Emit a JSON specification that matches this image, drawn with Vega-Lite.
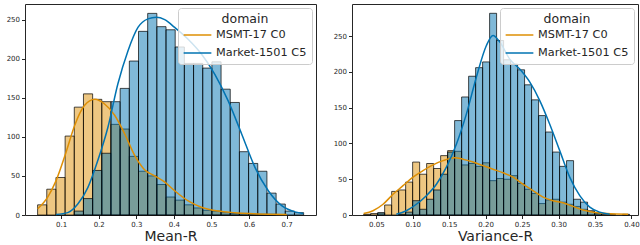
{
  "$schema": "https://vega.github.io/schema/vega-lite/v6.json",
  "padding": {"left": 5, "top": 3, "right": 0, "bottom": 0},
  "spacing": 15,
  "datasets": {
    "meanBars": [
      {"domain": "MSMT-17 C0", "x0": 0.0375, "x1": 0.0619, "count": 13},
      {"domain": "MSMT-17 C0", "x0": 0.0619, "x1": 0.0863, "count": 33},
      {"domain": "MSMT-17 C0", "x0": 0.0863, "x1": 0.1107, "count": 48},
      {"domain": "MSMT-17 C0", "x0": 0.1107, "x1": 0.1351, "count": 101},
      {"domain": "MSMT-17 C0", "x0": 0.1351, "x1": 0.1595, "count": 138},
      {"domain": "MSMT-17 C0", "x0": 0.1595, "x1": 0.1839, "count": 155},
      {"domain": "MSMT-17 C0", "x0": 0.1839, "x1": 0.2083, "count": 148},
      {"domain": "MSMT-17 C0", "x0": 0.2083, "x1": 0.2327, "count": 145},
      {"domain": "MSMT-17 C0", "x0": 0.2327, "x1": 0.2571, "count": 116},
      {"domain": "MSMT-17 C0", "x0": 0.2571, "x1": 0.2815, "count": 110},
      {"domain": "MSMT-17 C0", "x0": 0.2815, "x1": 0.3059, "count": 75},
      {"domain": "MSMT-17 C0", "x0": 0.3059, "x1": 0.3303, "count": 56},
      {"domain": "MSMT-17 C0", "x0": 0.3303, "x1": 0.3547, "count": 50},
      {"domain": "MSMT-17 C0", "x0": 0.3547, "x1": 0.3791, "count": 39},
      {"domain": "MSMT-17 C0", "x0": 0.3791, "x1": 0.4035, "count": 23},
      {"domain": "MSMT-17 C0", "x0": 0.4035, "x1": 0.4279, "count": 19},
      {"domain": "MSMT-17 C0", "x0": 0.4279, "x1": 0.4523, "count": 13},
      {"domain": "MSMT-17 C0", "x0": 0.4523, "x1": 0.4767, "count": 9},
      {"domain": "MSMT-17 C0", "x0": 0.4767, "x1": 0.5011, "count": 6},
      {"domain": "MSMT-17 C0", "x0": 0.5011, "x1": 0.5255, "count": 5},
      {"domain": "MSMT-17 C0", "x0": 0.5255, "x1": 0.5499, "count": 3},
      {"domain": "MSMT-17 C0", "x0": 0.5499, "x1": 0.5743, "count": 2},
      {"domain": "MSMT-17 C0", "x0": 0.5743, "x1": 0.5987, "count": 2},
      {"domain": "MSMT-17 C0", "x0": 0.5987, "x1": 0.6231, "count": 1},
      {"domain": "MSMT-17 C0", "x0": 0.6231, "x1": 0.6475, "count": 1},
      {"domain": "MSMT-17 C0", "x0": 0.6475, "x1": 0.6719, "count": 1},
      {"domain": "Market-1501 C5", "x0": 0.1351, "x1": 0.1595, "count": 5},
      {"domain": "Market-1501 C5", "x0": 0.1595, "x1": 0.1839, "count": 21},
      {"domain": "Market-1501 C5", "x0": 0.1839, "x1": 0.2083, "count": 57},
      {"domain": "Market-1501 C5", "x0": 0.2083, "x1": 0.2327, "count": 79},
      {"domain": "Market-1501 C5", "x0": 0.2327, "x1": 0.2571, "count": 145},
      {"domain": "Market-1501 C5", "x0": 0.2571, "x1": 0.2815, "count": 162},
      {"domain": "Market-1501 C5", "x0": 0.2815, "x1": 0.3059, "count": 197},
      {"domain": "Market-1501 C5", "x0": 0.3059, "x1": 0.3303, "count": 235},
      {"domain": "Market-1501 C5", "x0": 0.3303, "x1": 0.3547, "count": 258},
      {"domain": "Market-1501 C5", "x0": 0.3547, "x1": 0.3791, "count": 241},
      {"domain": "Market-1501 C5", "x0": 0.3791, "x1": 0.4035, "count": 237},
      {"domain": "Market-1501 C5", "x0": 0.4035, "x1": 0.4279, "count": 215},
      {"domain": "Market-1501 C5", "x0": 0.4279, "x1": 0.4523, "count": 194},
      {"domain": "Market-1501 C5", "x0": 0.4523, "x1": 0.4767, "count": 194},
      {"domain": "Market-1501 C5", "x0": 0.4767, "x1": 0.5011, "count": 188},
      {"domain": "Market-1501 C5", "x0": 0.5011, "x1": 0.5255, "count": 196},
      {"domain": "Market-1501 C5", "x0": 0.5255, "x1": 0.5499, "count": 161},
      {"domain": "Market-1501 C5", "x0": 0.5499, "x1": 0.5743, "count": 144},
      {"domain": "Market-1501 C5", "x0": 0.5743, "x1": 0.5987, "count": 81},
      {"domain": "Market-1501 C5", "x0": 0.5987, "x1": 0.6231, "count": 66},
      {"domain": "Market-1501 C5", "x0": 0.6231, "x1": 0.6475, "count": 56},
      {"domain": "Market-1501 C5", "x0": 0.6475, "x1": 0.6719, "count": 28},
      {"domain": "Market-1501 C5", "x0": 0.6719, "x1": 0.6963, "count": 14},
      {"domain": "Market-1501 C5", "x0": 0.6963, "x1": 0.7207, "count": 5},
      {"domain": "Market-1501 C5", "x0": 0.7207, "x1": 0.7451, "count": 3}
    ],
    "meanKde": [
      {"domain": "MSMT-17 C0", "x": 0.0378, "y": 8},
      {"domain": "MSMT-17 C0", "x": 0.0644, "y": 23},
      {"domain": "MSMT-17 C0", "x": 0.0867, "y": 44},
      {"domain": "MSMT-17 C0", "x": 0.113, "y": 80},
      {"domain": "MSMT-17 C0", "x": 0.1356, "y": 114},
      {"domain": "MSMT-17 C0", "x": 0.162, "y": 140},
      {"domain": "MSMT-17 C0", "x": 0.19, "y": 148},
      {"domain": "MSMT-17 C0", "x": 0.2156, "y": 142},
      {"domain": "MSMT-17 C0", "x": 0.242, "y": 128},
      {"domain": "MSMT-17 C0", "x": 0.269, "y": 104},
      {"domain": "MSMT-17 C0", "x": 0.296, "y": 76},
      {"domain": "MSMT-17 C0", "x": 0.322, "y": 58},
      {"domain": "MSMT-17 C0", "x": 0.349, "y": 50},
      {"domain": "MSMT-17 C0", "x": 0.376, "y": 42},
      {"domain": "MSMT-17 C0", "x": 0.402, "y": 31},
      {"domain": "MSMT-17 C0", "x": 0.438, "y": 18},
      {"domain": "MSMT-17 C0", "x": 0.473, "y": 10},
      {"domain": "MSMT-17 C0", "x": 0.518, "y": 5},
      {"domain": "MSMT-17 C0", "x": 0.562, "y": 3},
      {"domain": "MSMT-17 C0", "x": 0.651, "y": 1},
      {"domain": "MSMT-17 C0", "x": 0.70, "y": 0.5},
      {"domain": "Market-1501 C5", "x": 0.0867, "y": 0.5},
      {"domain": "Market-1501 C5", "x": 0.1178, "y": 3},
      {"domain": "Market-1501 C5", "x": 0.1444, "y": 14},
      {"domain": "Market-1501 C5", "x": 0.1711, "y": 35},
      {"domain": "Market-1501 C5", "x": 0.1978, "y": 70},
      {"domain": "Market-1501 C5", "x": 0.2244, "y": 112},
      {"domain": "Market-1501 C5", "x": 0.2511, "y": 168},
      {"domain": "Market-1501 C5", "x": 0.2778, "y": 210},
      {"domain": "Market-1501 C5", "x": 0.3044, "y": 240},
      {"domain": "Market-1501 C5", "x": 0.3311, "y": 251},
      {"domain": "Market-1501 C5", "x": 0.3533, "y": 253},
      {"domain": "Market-1501 C5", "x": 0.3756, "y": 250},
      {"domain": "Market-1501 C5", "x": 0.4022, "y": 240},
      {"domain": "Market-1501 C5", "x": 0.4378, "y": 225},
      {"domain": "Market-1501 C5", "x": 0.4733, "y": 206},
      {"domain": "Market-1501 C5", "x": 0.5089, "y": 180},
      {"domain": "Market-1501 C5", "x": 0.5444, "y": 146},
      {"domain": "Market-1501 C5", "x": 0.58, "y": 104},
      {"domain": "Market-1501 C5", "x": 0.6156, "y": 61},
      {"domain": "Market-1501 C5", "x": 0.6511, "y": 31},
      {"domain": "Market-1501 C5", "x": 0.6867, "y": 12},
      {"domain": "Market-1501 C5", "x": 0.7222, "y": 4},
      {"domain": "Market-1501 C5", "x": 0.7444, "y": 2}
    ],
    "varBars": [
      {"domain": "MSMT-17 C0", "x0": 0.0326, "x1": 0.0422, "count": 1},
      {"domain": "MSMT-17 C0", "x0": 0.0422, "x1": 0.0518, "count": 2},
      {"domain": "MSMT-17 C0", "x0": 0.0518, "x1": 0.0614, "count": 3},
      {"domain": "MSMT-17 C0", "x0": 0.0614, "x1": 0.071, "count": 14},
      {"domain": "MSMT-17 C0", "x0": 0.071, "x1": 0.0806, "count": 33},
      {"domain": "MSMT-17 C0", "x0": 0.0806, "x1": 0.0902, "count": 35},
      {"domain": "MSMT-17 C0", "x0": 0.0902, "x1": 0.0998, "count": 46},
      {"domain": "MSMT-17 C0", "x0": 0.0998, "x1": 0.1094, "count": 74},
      {"domain": "MSMT-17 C0", "x0": 0.1094, "x1": 0.119, "count": 57},
      {"domain": "MSMT-17 C0", "x0": 0.119, "x1": 0.1286, "count": 72},
      {"domain": "MSMT-17 C0", "x0": 0.1286, "x1": 0.1382, "count": 65},
      {"domain": "MSMT-17 C0", "x0": 0.1382, "x1": 0.1478, "count": 83},
      {"domain": "MSMT-17 C0", "x0": 0.1478, "x1": 0.1574, "count": 90},
      {"domain": "MSMT-17 C0", "x0": 0.1574, "x1": 0.167, "count": 89},
      {"domain": "MSMT-17 C0", "x0": 0.167, "x1": 0.1766, "count": 70},
      {"domain": "MSMT-17 C0", "x0": 0.1766, "x1": 0.1862, "count": 72},
      {"domain": "MSMT-17 C0", "x0": 0.1862, "x1": 0.1958, "count": 68},
      {"domain": "MSMT-17 C0", "x0": 0.1958, "x1": 0.2054, "count": 73},
      {"domain": "MSMT-17 C0", "x0": 0.2054, "x1": 0.215, "count": 48},
      {"domain": "MSMT-17 C0", "x0": 0.215, "x1": 0.2246, "count": 51},
      {"domain": "MSMT-17 C0", "x0": 0.2246, "x1": 0.2342, "count": 50},
      {"domain": "MSMT-17 C0", "x0": 0.2342, "x1": 0.2438, "count": 55},
      {"domain": "MSMT-17 C0", "x0": 0.2438, "x1": 0.2534, "count": 44},
      {"domain": "MSMT-17 C0", "x0": 0.2534, "x1": 0.263, "count": 36},
      {"domain": "MSMT-17 C0", "x0": 0.263, "x1": 0.2726, "count": 30},
      {"domain": "MSMT-17 C0", "x0": 0.2726, "x1": 0.2822, "count": 16},
      {"domain": "MSMT-17 C0", "x0": 0.2822, "x1": 0.2918, "count": 21},
      {"domain": "MSMT-17 C0", "x0": 0.2918, "x1": 0.3014, "count": 22},
      {"domain": "MSMT-17 C0", "x0": 0.3014, "x1": 0.311, "count": 18},
      {"domain": "MSMT-17 C0", "x0": 0.311, "x1": 0.3206, "count": 15},
      {"domain": "MSMT-17 C0", "x0": 0.3206, "x1": 0.3302, "count": 12},
      {"domain": "MSMT-17 C0", "x0": 0.3302, "x1": 0.3398, "count": 8},
      {"domain": "MSMT-17 C0", "x0": 0.3398, "x1": 0.3494, "count": 5},
      {"domain": "MSMT-17 C0", "x0": 0.3494, "x1": 0.359, "count": 2},
      {"domain": "MSMT-17 C0", "x0": 0.359, "x1": 0.3686, "count": 1},
      {"domain": "MSMT-17 C0", "x0": 0.3686, "x1": 0.3782, "count": 1},
      {"domain": "MSMT-17 C0", "x0": 0.3878, "x1": 0.3974, "count": 1},
      {"domain": "Market-1501 C5", "x0": 0.0518, "x1": 0.0614, "count": 3},
      {"domain": "Market-1501 C5", "x0": 0.0806, "x1": 0.0902, "count": 1},
      {"domain": "Market-1501 C5", "x0": 0.0902, "x1": 0.0998, "count": 4},
      {"domain": "Market-1501 C5", "x0": 0.0998, "x1": 0.1094, "count": 20},
      {"domain": "Market-1501 C5", "x0": 0.1094, "x1": 0.119, "count": 8},
      {"domain": "Market-1501 C5", "x0": 0.119, "x1": 0.1286, "count": 22},
      {"domain": "Market-1501 C5", "x0": 0.1286, "x1": 0.1382, "count": 35},
      {"domain": "Market-1501 C5", "x0": 0.1382, "x1": 0.1478, "count": 57},
      {"domain": "Market-1501 C5", "x0": 0.1478, "x1": 0.1574, "count": 88},
      {"domain": "Market-1501 C5", "x0": 0.1574, "x1": 0.167, "count": 132},
      {"domain": "Market-1501 C5", "x0": 0.167, "x1": 0.1766, "count": 165},
      {"domain": "Market-1501 C5", "x0": 0.1766, "x1": 0.1862, "count": 194},
      {"domain": "Market-1501 C5", "x0": 0.1862, "x1": 0.1958, "count": 206},
      {"domain": "Market-1501 C5", "x0": 0.1958, "x1": 0.2054, "count": 214},
      {"domain": "Market-1501 C5", "x0": 0.2054, "x1": 0.215, "count": 282},
      {"domain": "Market-1501 C5", "x0": 0.215, "x1": 0.2246, "count": 244},
      {"domain": "Market-1501 C5", "x0": 0.2246, "x1": 0.2342, "count": 217},
      {"domain": "Market-1501 C5", "x0": 0.2342, "x1": 0.2438, "count": 211},
      {"domain": "Market-1501 C5", "x0": 0.2438, "x1": 0.2534, "count": 203},
      {"domain": "Market-1501 C5", "x0": 0.2534, "x1": 0.263, "count": 182},
      {"domain": "Market-1501 C5", "x0": 0.263, "x1": 0.2726, "count": 161},
      {"domain": "Market-1501 C5", "x0": 0.2726, "x1": 0.2822, "count": 139},
      {"domain": "Market-1501 C5", "x0": 0.2822, "x1": 0.2918, "count": 116},
      {"domain": "Market-1501 C5", "x0": 0.2918, "x1": 0.3014, "count": 88},
      {"domain": "Market-1501 C5", "x0": 0.3014, "x1": 0.311, "count": 68},
      {"domain": "Market-1501 C5", "x0": 0.311, "x1": 0.3206, "count": 76},
      {"domain": "Market-1501 C5", "x0": 0.3206, "x1": 0.3302, "count": 22},
      {"domain": "Market-1501 C5", "x0": 0.3302, "x1": 0.3398, "count": 18},
      {"domain": "Market-1501 C5", "x0": 0.3398, "x1": 0.3494, "count": 6},
      {"domain": "Market-1501 C5", "x0": 0.3494, "x1": 0.359, "count": 3}
    ],
    "varKde": [
      {"domain": "MSMT-17 C0", "x": 0.0326, "y": 2},
      {"domain": "MSMT-17 C0", "x": 0.0454, "y": 6},
      {"domain": "MSMT-17 C0", "x": 0.0592, "y": 15},
      {"domain": "MSMT-17 C0", "x": 0.0729, "y": 29},
      {"domain": "MSMT-17 C0", "x": 0.0866, "y": 41},
      {"domain": "MSMT-17 C0", "x": 0.1003, "y": 53},
      {"domain": "MSMT-17 C0", "x": 0.114, "y": 62},
      {"domain": "MSMT-17 C0", "x": 0.1278, "y": 70},
      {"domain": "MSMT-17 C0", "x": 0.1415, "y": 76},
      {"domain": "MSMT-17 C0", "x": 0.1575, "y": 80},
      {"domain": "MSMT-17 C0", "x": 0.169, "y": 78},
      {"domain": "MSMT-17 C0", "x": 0.1827, "y": 74},
      {"domain": "MSMT-17 C0", "x": 0.1964, "y": 69},
      {"domain": "MSMT-17 C0", "x": 0.2101, "y": 64},
      {"domain": "MSMT-17 C0", "x": 0.2238, "y": 59},
      {"domain": "MSMT-17 C0", "x": 0.2376, "y": 53},
      {"domain": "MSMT-17 C0", "x": 0.2513, "y": 43},
      {"domain": "MSMT-17 C0", "x": 0.265, "y": 34},
      {"domain": "MSMT-17 C0", "x": 0.2788, "y": 25},
      {"domain": "MSMT-17 C0", "x": 0.2925, "y": 20},
      {"domain": "MSMT-17 C0", "x": 0.3062, "y": 17},
      {"domain": "MSMT-17 C0", "x": 0.3199, "y": 12},
      {"domain": "MSMT-17 C0", "x": 0.3336, "y": 7},
      {"domain": "MSMT-17 C0", "x": 0.3474, "y": 4},
      {"domain": "MSMT-17 C0", "x": 0.3657, "y": 2},
      {"domain": "MSMT-17 C0", "x": 0.3954, "y": 1},
      {"domain": "Market-1501 C5", "x": 0.0774, "y": 1},
      {"domain": "Market-1501 C5", "x": 0.0912, "y": 6},
      {"domain": "Market-1501 C5", "x": 0.1049, "y": 15},
      {"domain": "Market-1501 C5", "x": 0.1186, "y": 27},
      {"domain": "Market-1501 C5", "x": 0.1324, "y": 43},
      {"domain": "Market-1501 C5", "x": 0.1461, "y": 67},
      {"domain": "Market-1501 C5", "x": 0.1598, "y": 99},
      {"domain": "Market-1501 C5", "x": 0.1735, "y": 141},
      {"domain": "Market-1501 C5", "x": 0.1873, "y": 193},
      {"domain": "Market-1501 C5", "x": 0.201, "y": 237},
      {"domain": "Market-1501 C5", "x": 0.2101, "y": 251},
      {"domain": "Market-1501 C5", "x": 0.2193, "y": 242},
      {"domain": "Market-1501 C5", "x": 0.233, "y": 218},
      {"domain": "Market-1501 C5", "x": 0.2467, "y": 204},
      {"domain": "Market-1501 C5", "x": 0.2604, "y": 186},
      {"domain": "Market-1501 C5", "x": 0.2742, "y": 160},
      {"domain": "Market-1501 C5", "x": 0.2879, "y": 127},
      {"domain": "Market-1501 C5", "x": 0.3016, "y": 90},
      {"domain": "Market-1501 C5", "x": 0.3153, "y": 53},
      {"domain": "Market-1501 C5", "x": 0.3291, "y": 27},
      {"domain": "Market-1501 C5", "x": 0.3428, "y": 11},
      {"domain": "Market-1501 C5", "x": 0.3565, "y": 4},
      {"domain": "Market-1501 C5", "x": 0.3702, "y": 1}
    ]
  },
  "hconcat": [
    {
      "width": 291,
      "height": 211,
      "layer": [
        {
          "data": {"name": "meanBars"},
          "transform": [{"filter": "datum.domain === 'MSMT-17 C0'"}],
          "mark": {"type": "rect", "fill": "#DE8F05", "fillOpacity": 0.5, "stroke": "#000", "strokeWidth": 1, "strokeOpacity": 0.7},
          "encoding": {
            "x": {"field": "x0", "type": "quantitative", "scale": {"domain": [0.004, 0.778], "nice": false, "zero": false},
                  "axis": {"values": [0.1, 0.2, 0.3, 0.4, 0.5, 0.6, 0.7], "format": ".1f", "title": "Mean-R"}},
            "x2": {"field": "x1"},
            "y": {"field": "count", "type": "quantitative", "scale": {"domain": [0, 270], "nice": false},
                  "axis": {"values": [0, 50, 100, 150, 200, 250], "title": null}},
            "y2": {"datum": 0}
          }
        },
        {
          "data": {"name": "meanBars"},
          "transform": [{"filter": "datum.domain === 'Market-1501 C5'"}],
          "mark": {"type": "rect", "fill": "#0173B2", "fillOpacity": 0.5, "stroke": "#000", "strokeWidth": 1, "strokeOpacity": 0.7},
          "encoding": {
            "x": {"field": "x0", "type": "quantitative"},
            "x2": {"field": "x1"},
            "y": {"field": "count", "type": "quantitative"},
            "y2": {"datum": 0}
          }
        },
        {
          "data": {"name": "meanKde"},
          "mark": {"type": "line", "interpolate": "monotone", "strokeWidth": 1.5},
          "encoding": {
            "x": {"field": "x", "type": "quantitative"},
            "y": {"field": "y", "type": "quantitative"},
            "color": {"field": "domain", "type": "nominal", "sort": null, "scale": {"domain": ["MSMT-17 C0", "Market-1501 C5"], "range": ["#DE8F05", "#0173B2"]},
                       "legend": {"title": "domain", "orient": "top-right"}}
          }
        }
      ]
    },
    {
      "width": 286,
      "height": 211,
      "layer": [
        {
          "data": {"name": "varBars"},
          "transform": [{"filter": "datum.domain === 'MSMT-17 C0'"}],
          "mark": {"type": "rect", "fill": "#DE8F05", "fillOpacity": 0.5, "stroke": "#000", "strokeWidth": 1, "strokeOpacity": 0.7},
          "encoding": {
            "x": {"field": "x0", "type": "quantitative", "scale": {"domain": [0.0166, 0.409], "nice": false, "zero": false},
                  "axis": {"values": [0.05, 0.1, 0.15, 0.2, 0.25, 0.3, 0.35, 0.4], "format": ".2f", "title": "Variance-R"}},
            "x2": {"field": "x1"},
            "y": {"field": "count", "type": "quantitative", "scale": {"domain": [0, 295], "nice": false},
                  "axis": {"values": [0, 50, 100, 150, 200, 250], "title": null}},
            "y2": {"datum": 0}
          }
        },
        {
          "data": {"name": "varBars"},
          "transform": [{"filter": "datum.domain === 'Market-1501 C5'"}],
          "mark": {"type": "rect", "fill": "#0173B2", "fillOpacity": 0.5, "stroke": "#000", "strokeWidth": 1, "strokeOpacity": 0.7},
          "encoding": {
            "x": {"field": "x0", "type": "quantitative"},
            "x2": {"field": "x1"},
            "y": {"field": "count", "type": "quantitative"},
            "y2": {"datum": 0}
          }
        },
        {
          "data": {"name": "varKde"},
          "mark": {"type": "line", "interpolate": "monotone", "strokeWidth": 1.5},
          "encoding": {
            "x": {"field": "x", "type": "quantitative"},
            "y": {"field": "y", "type": "quantitative"},
            "color": {"field": "domain", "type": "nominal", "sort": null, "scale": {"domain": ["MSMT-17 C0", "Market-1501 C5"], "range": ["#DE8F05", "#0173B2"]},
                       "legend": {"title": "domain", "orient": "top-right"}}
          }
        }
      ]
    }
  ],
  "resolve": {"scale": {"color": "independent", "x": "independent", "y": "independent"}, "legend": {"color": "independent"}},
  "config": {
    "font": "DejaVu Sans",
    "view": {"stroke": "#262626", "strokeWidth": 1},
    "axis": {"grid": false, "domain": false, "tickColor": "#262626", "tickSize": 3.5, "labelFontSize": 7, "labelColor": "#262626", "labelPadding": 2, "titleFontWeight": "normal", "titleColor": "#262626", "labelFlush": false},
    "axisX": {"titleFontSize": 14, "titlePadding": 2},
    "legend": {
      "titleFontSize": 12.5, "titleFontWeight": "normal", "titleColor": "#262626", "titleAnchor": "middle", "titlePadding": 0,
      "labelFontSize": 11.3, "labelColor": "#262626", "labelOffset": 9,
      "symbolType": "M-1.6,0H1.6", "symbolSize": 300, "symbolStrokeWidth": 1.5, "symbolOffset": 5,
      "fillColor": "rgba(255,255,255,0.8)", "strokeColor": "#cccccc", "cornerRadius": 3,
      "padding": 5, "rowPadding": 3, "offset": 4
    }
  }
}
